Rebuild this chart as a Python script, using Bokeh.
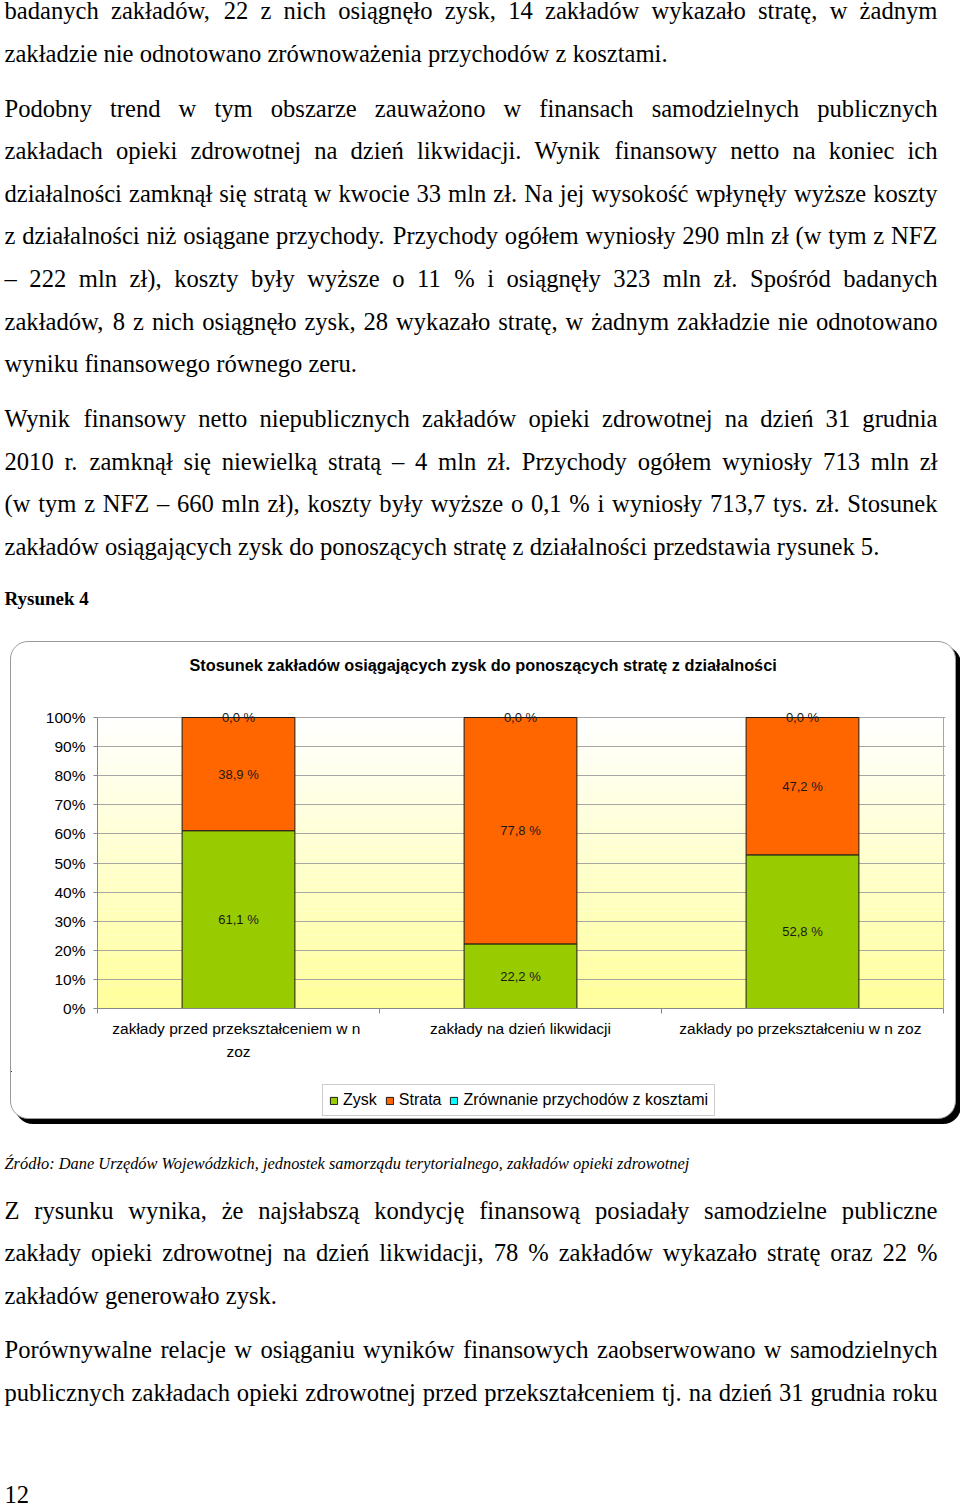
import numpy as np
from bokeh.plotting import figure
from bokeh.models import (Range1d, FixedTicker, Legend, LegendItem, ColumnDataSource,
                          LinearAxis, Grid, Spacer, Title)
from bokeh.layouts import column, row
from bokeh.embed import file_html
from bokeh.resources import INLINE
from bokeh.core.properties import value

# ---------------- chart data ----------------
categories = ["zakłady przed przekształceniem w  n\nzoz",
              "zakłady na dzień likwidacji",
              "zakłady po przekształceniu w  n zoz"]
series_names = ["Zysk", "Strata", "Zrównanie przychodów z kosztami"]
zysk = [61.1, 22.2, 52.8]
strata = [38.9, 77.8, 47.2]
zrownanie = [0.0, 0.0, 0.0]
series_colors = ["#99CC00", "#FF6600", "#00FFFF"]
y_tick_values = [0, 10, 20, 30, 40, 50, 60, 70, 80, 90, 100]
y_tick_labels = ["0%", "10%", "20%", "30%", "40%", "50%", "60%", "70%", "80%", "90%", "100%"]
chart_title = "Stosunek zakładów osiągających zysk do ponoszących stratę z działalności"

# ---------------- page text ----------------
top_paragraphs = [
    (["badanych zakładów, 22 z nich osiągnęło zysk, 14 zakładów wykazało stratę, w żadnym",
      "zakładzie nie odnotowano zrównoważenia przychodów z kosztami."], False),
    (["Podobny trend w tym obszarze zauważono w finansach samodzielnych publicznych",
      "zakładach opieki zdrowotnej na dzień likwidacji. Wynik finansowy netto na koniec ich",
      "działalności zamknął się stratą w kwocie 33 mln zł. Na jej wysokość wpłynęły wyższe koszty",
      "z działalności niż osiągane przychody. Przychody ogółem wyniosły 290 mln zł (w tym z NFZ",
      "– 222 mln zł), koszty były wyższe o 11 % i osiągnęły 323 mln zł. Spośród badanych",
      "zakładów, 8 z nich osiągnęło zysk, 28 wykazało stratę, w żadnym zakładzie nie odnotowano",
      "wyniku finansowego równego zeru."], False),
    (["Wynik finansowy netto niepublicznych zakładów opieki zdrowotnej na dzień 31 grudnia",
      "2010 r. zamknął się niewielką stratą – 4 mln zł. Przychody ogółem wyniosły 713 mln zł",
      "(w tym z NFZ – 660 mln zł), koszty były wyższe o 0,1 % i wyniosły 713,7 tys. zł. Stosunek",
      "zakładów osiągających zysk do ponoszących stratę z działalności przedstawia rysunek 5."], False),
]
figure_caption = "Rysunek 4"
source_text = "Źródło: Dane Urzędów Wojewódzkich, jednostek samorządu terytorialnego, zakładów opieki zdrowotnej"
bottom_paragraphs = [
    (["Z rysunku wynika, że najsłabszą kondycję finansową posiadały samodzielne publiczne",
      "zakłady opieki zdrowotnej na dzień likwidacji, 78 % zakładów wykazało stratę oraz 22 %",
      "zakładów generowało zysk."], False),
    (["Porównywalne relacje w osiąganiu wyników finansowych zaobserwowano w samodzielnych",
      "publicznych zakładach opieki zdrowotnej przed przekształceniem tj. na dzień 31 grudnia roku"], True),
]
page_number = "12"

# ---------------- text layout helpers (Times metrics) ----------------
TIMES = {" ": 250, "(": 333, ")": 333, "%": 833, ",": 250, "-": 333, ".": 250, ":": 278,
         "–": 500, "A": 722, "B": 667, "C": 667, "D": 722, "E": 611, "F": 556, "G": 722,
         "H": 722, "I": 333, "J": 389, "K": 722, "L": 611, "M": 889, "N": 722, "O": 722,
         "P": 556, "Q": 722, "R": 667, "S": 556, "T": 611, "U": 722, "V": 722, "W": 944,
         "X": 722, "Y": 722, "Z": 611, "a": 444, "b": 500, "c": 444, "d": 500, "e": 444,
         "f": 333, "g": 500, "h": 500, "i": 278, "j": 278, "k": 500, "l": 278, "m": 778,
         "n": 500, "o": 500, "p": 500, "q": 500, "r": 333, "s": 389, "t": 278, "u": 500,
         "v": 500, "w": 722, "x": 500, "y": 500, "z": 444, "ą": 444, "ę": 444, "ł": 278,
         "ń": 500, "ó": 500, "ś": 389, "ć": 444, "ż": 444, "ź": 444, "Ż": 611, "Ś": 556,
         "Ź": 611}
for d in "0123456789":
    TIMES[d] = 500

BODY_SIZE = 24.6
LINE_H = 42.6
PARA_GAP = 12.1
X0, X1 = 4.0, 937.0
PAGE_W = 950


def tw(s, size):
    return sum(TIMES.get(ch, 500) for ch in s) * size / 1000.0


def layout(paragraphs, first_y):
    xs, ys, ts = [], [], []
    y = first_y
    last = y
    for lines, last_justified in paragraphs:
        for li, line in enumerate(lines):
            justify = (li < len(lines) - 1) or last_justified
            words = line.split(" ")
            if justify and len(words) > 1:
                total = sum(tw(w, BODY_SIZE) for w in words)
                gap = (X1 - X0 - total) / (len(words) - 1)
                x = X0
                for w in words:
                    xs.append(x); ys.append(y); ts.append(w)
                    x += tw(w, BODY_SIZE) + gap
            else:
                xs.append(X0); ys.append(y); ts.append(line)
            last = y
            y += LINE_H
        y += PARA_GAP
    return xs, ys, ts, last


def blank_fig(w, h, xr=None, yr=None, **kw):
    f = figure(width=w, height=h,
               x_range=xr if xr is not None else Range1d(0, w),
               y_range=yr if yr is not None else Range1d(h, 0),
               toolbar_location=None, output_backend="svg",
               x_axis_type=None, y_axis_type=None, outline_line_color=None, **kw)
    f.background_fill_color = None
    f.border_fill_color = None
    f.frame_align = False
    return f


SERIF = value("Liberation Serif")

# ---------------- top text ----------------
TOP_H = 641
ptop = blank_fig(PAGE_W, TOP_H, min_border=0)
xs, ys, ts, last_top = layout(top_paragraphs, 10.3)
ptop.text(x=xs, y=ys, text=ts, text_font=SERIF, text_font_size=value(f"{BODY_SIZE}px"),
          text_baseline="alphabetic", text_align="left", text_color="black")
ptop.text(x=[X0], y=[last_top + 52.4], text=[figure_caption], text_font=SERIF,
          text_font_size=value("19px"), text_font_style="bold",
          text_baseline="alphabetic", text_align="left", text_color="black")

# ---------------- chart ----------------
n_cat = len(categories)
y_max = y_tick_values[-1]
FRAME_W, PLOT_W = 848, 846
FRAME_H, PLOT_H = 303, 291
x_end = n_cat * FRAME_W / PLOT_W
y_end = y_max * FRAME_H / PLOT_H
CHART_W = 944
TITLE_H, CHART_H, LEG_H = 39, 390, 47
LEFT, RIGHT = 86, 10

# title strip
ptitle = blank_fig(CHART_W, TITLE_H, min_border_left=LEFT, min_border_right=RIGHT,
                   min_border_top=TITLE_H - 1, min_border_bottom=0)
ptitle.title = Title(text=chart_title, align="left", offset=92, standoff=14,
                     text_font="Liberation Sans", text_font_size="16.3px",
                     text_font_style="bold", text_color="black")

pc = figure(width=CHART_W, height=CHART_H, x_range=Range1d(0, x_end), y_range=Range1d(0, y_end),
            min_border_left=LEFT, min_border_right=RIGHT, min_border_top=24,
            min_border_bottom=CHART_H - 24 - FRAME_H,
            toolbar_location=None, output_backend="svg", x_axis_type=None, y_axis_type=None,
            outline_line_color=None)
pc.frame_align = False
pc.border_fill_color = None
pc.background_fill_color = "white"

# gradient plot-area background
n_strips = 60
edges = np.linspace(0, y_max, n_strips + 1)
top_rgb = np.array([255, 255, 255])
bot_rgb = np.array([255, 255, 153])
strip_colors = []
for i in range(n_strips):
    t = (edges[i] + edges[i + 1]) / 2 / y_max
    c = bot_rgb + (top_rgb - bot_rgb) * t
    strip_colors.append("#%02x%02x%02x" % tuple(int(round(v)) for v in c))
pc.quad(left=[0] * n_strips, right=[n_cat] * n_strips, bottom=edges[:-1], top=edges[1:],
        fill_color=strip_colors, line_color=None, level="image")

# axes
yaxis = LinearAxis(ticker=FixedTicker(ticks=y_tick_values),
                   major_label_overrides={v: l for v, l in zip(y_tick_values, y_tick_labels)})
yaxis.bounds = (0, y_max)
yaxis.axis_line_color = "#888888"
yaxis.major_tick_line_color = "#888888"
yaxis.major_tick_out = 4
yaxis.major_tick_in = 0
yaxis.minor_tick_line_color = None
yaxis.major_label_standoff = 8
yaxis.major_label_text_font = "Liberation Sans"
yaxis.major_label_text_font_size = "15.5px"
yaxis.major_label_text_color = "black"
pc.add_layout(yaxis, "left")

centers = [i + 0.5 for i in range(n_cat)]
bounds = [float(i) for i in range(n_cat + 1)]
xaxis = LinearAxis(ticker=FixedTicker(ticks=centers, minor_ticks=bounds),
                   major_label_overrides={c: lab for c, lab in zip(centers, categories)})
xaxis.bounds = (0, n_cat)
xaxis.axis_line_color = "#888888"
xaxis.major_tick_line_color = None
xaxis.major_tick_out = 0
xaxis.major_tick_in = 0
xaxis.minor_tick_line_color = "#888888"
xaxis.minor_tick_out = 5
xaxis.minor_tick_in = 0
xaxis.major_label_standoff = 6
xaxis.major_label_text_font = "Liberation Sans"
xaxis.major_label_text_font_size = "15.5px"
xaxis.major_label_text_color = "black"
xaxis.major_label_text_line_height = 1.4
pc.add_layout(xaxis, "below")

grid = Grid(dimension=1, ticker=yaxis.ticker, grid_line_color="#a6a6a6")
pc.add_layout(grid, "center")

# right border of plot area
pc.segment(x0=[n_cat], y0=[0], x1=[n_cat], y1=[y_max], line_color="#a6a6a6", line_width=1)

# stacked bars
src = ColumnDataSource(dict(x=centers, zysk=zysk, strata=strata, zrownanie=zrownanie))
stack_cols = ["zysk", "strata", "zrownanie"]
bars = pc.vbar_stack(stack_cols, x="x", width=0.4, source=src,
                     fill_color=series_colors, line_color="#1a1a1a", line_width=1)

# value labels
bottom = np.zeros(n_cat)
lx, ly, lt = [], [], []
for vals in (zysk, strata, zrownanie):
    v = np.array(vals)
    for i in range(n_cat):
        lx.append(centers[i])
        ly.append(bottom[i] + v[i] / 2)
        lt.append(f"{v[i]:.1f}".replace(".", ",") + " %")
    bottom = bottom + v
pc.text(x=lx, y=ly, text=lt, text_font=value("Liberation Sans"), text_font_size=value("13px"),
        text_align="center", text_baseline="middle", text_color="#1a1a1a")

# legend strip (same series; its data lies entirely outside this strip's view)
pleg = blank_fig(CHART_W, LEG_H, xr=Range1d(n_cat + 100, n_cat + 200),
                 yr=Range1d(-2 * y_max, -y_max), min_border=0)
leg_renderers = pleg.vbar_stack(stack_cols, x="x", width=0.4, source=src,
                                fill_color=series_colors, line_color="#1a1a1a", line_width=1)
legend = Legend(items=[LegendItem(label=n, renderers=[r]) for n, r in zip(series_names, leg_renderers)],
                orientation="horizontal", location=(311, 2), glyph_width=9, glyph_height=9,
                label_standoff=5, spacing=8, padding=6, margin=0, label_height=18,
                label_text_font="Liberation Sans", label_text_font_size="16px",
                label_text_color="black", border_line_color="#9a9a9a",
                background_fill_color="white", background_fill_alpha=1.0)
pleg.add_layout(legend, "center")

chart_box = column(ptitle, pc, pleg, spacing=0)
chart_box.styles = {"border": "1px solid #9a9a9a", "border-radius": "18px",
                    "box-shadow": "5px 5px 0 #000", "background": "white"}

# ---------------- bottom text ----------------
BOT_H = 384
pbot = blank_fig(PAGE_W, BOT_H, min_border=0)
pbot.text(x=[X0], y=[44], text=[source_text], text_font=SERIF, text_font_size=value("16.4px"),
          text_font_style="italic", text_baseline="alphabetic", text_align="left",
          text_color="black")
xs, ys, ts, last_bot = layout(bottom_paragraphs, 90.5)
pbot.text(x=xs, y=ys, text=ts, text_font=SERIF, text_font_size=value(f"{BODY_SIZE}px"),
          text_baseline="alphabetic", text_align="left", text_color="black")
pbot.text(x=[X0], y=[375], text=[page_number], text_font=SERIF,
          text_font_size=value(f"{BODY_SIZE}px"), text_baseline="alphabetic",
          text_align="left", text_color="black")

page = column(ptop, row(Spacer(width=10, height=TITLE_H + CHART_H + LEG_H), chart_box, spacing=0),
              pbot, spacing=0)
open("out.html", "w").write(file_html(page, INLINE))
